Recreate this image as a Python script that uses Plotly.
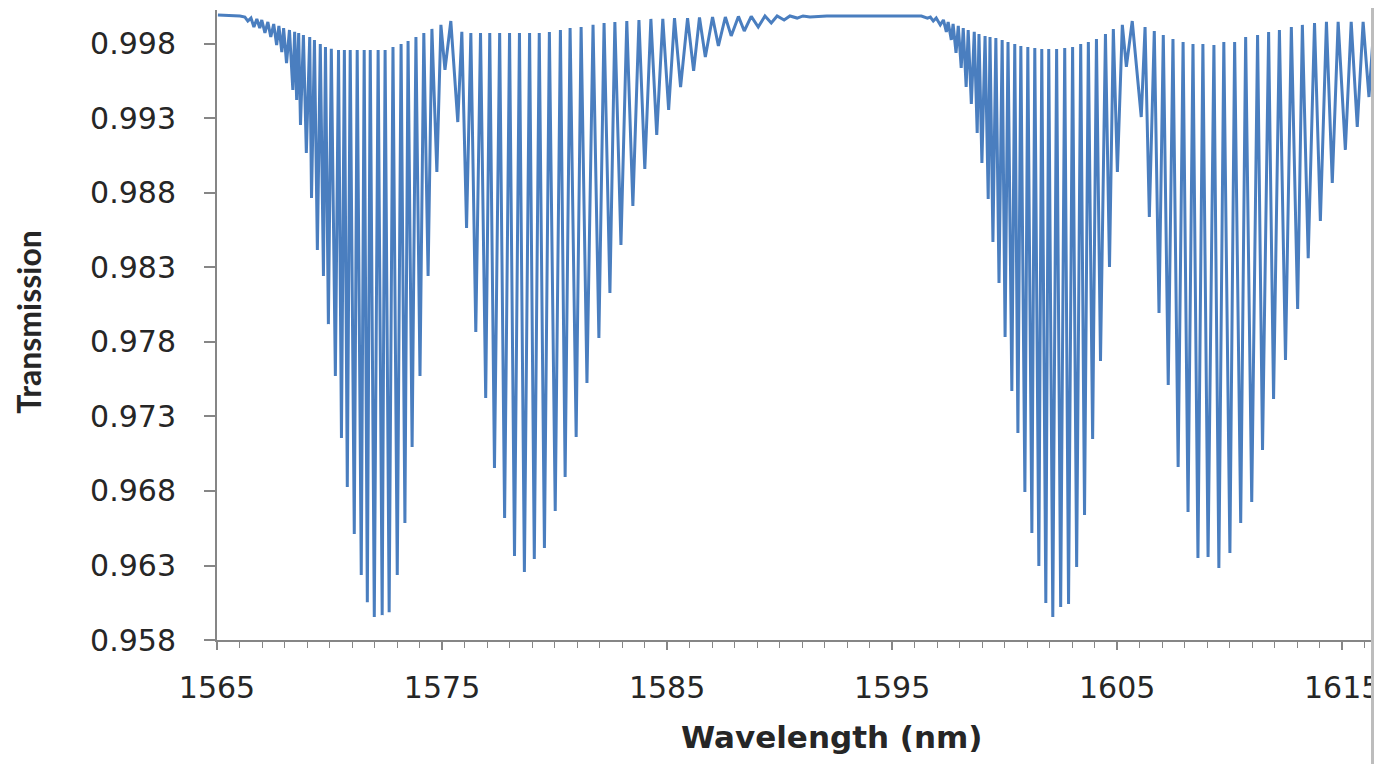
#!/usr/bin/env python3
"""
Transmission spectrum of the ring resonator, 1565-1616 nm.
Dip minima and the envelope maxima between them, read off the measured trace.
"""
import pandas as pd
import plotly.graph_objects as go

# resonance dips (wavelength in nm, transmission at the bottom of the dip)
dip_nm = [
    1566.37, 1566.64, 1566.90, 1567.13, 1567.39, 1567.65, 1567.88, 1568.09, 1568.37, 1568.54,
    1568.71, 1568.97, 1569.20, 1569.46, 1569.73, 1569.95, 1570.26, 1570.53, 1570.79, 1571.10,
    1571.41, 1571.68, 1571.99, 1572.34, 1572.65, 1573.01, 1573.35, 1573.67, 1574.02, 1574.38,
    1574.77, 1575.13,
    1575.70, 1576.09, 1576.50, 1576.94, 1577.33, 1577.78, 1578.22, 1578.66, 1579.10, 1579.55,
    1580.03, 1580.47, 1580.96, 1581.44, 1581.97, 1582.46, 1582.95, 1583.48, 1584.01, 1584.54,
    1585.07, 1585.60, 1586.18, 1586.70, 1587.28, 1587.85, 1588.43, 1589.05, 1589.63, 1590.20,
    1590.78, 1591.35,
    1596.57, 1596.83, 1597.14, 1597.41, 1597.63, 1597.84, 1598.07, 1598.29, 1598.52, 1598.78,
    1598.99, 1599.27, 1599.48, 1599.75, 1600.02, 1600.32, 1600.59, 1600.90, 1601.21, 1601.52,
    1601.83, 1602.14, 1602.49, 1602.84, 1603.20, 1603.55, 1603.91, 1604.26, 1604.66, 1605.01,
    1605.41,
    1606.07, 1606.43, 1606.86, 1607.27, 1607.71, 1608.15, 1608.59, 1609.04, 1609.52, 1610.01,
    1610.49, 1610.98, 1611.46, 1611.95, 1612.48, 1613.02, 1613.49, 1614.03, 1614.56, 1615.14,
    1615.67, 1616.19,
]
dip_T = [
    0.99954, 0.99914, 0.99907, 0.99874, 0.99847, 0.99793, 0.99746, 0.99672, 0.99491, 0.99424,
    0.99256, 0.99069, 0.98767, 0.98417, 0.98243, 0.97920, 0.97572, 0.97156, 0.96827, 0.96511,
    0.96236, 0.96054, 0.95954, 0.95967, 0.95987, 0.96236, 0.96585, 0.97096, 0.97572, 0.98243,
    0.98941, 0.99626,
    0.99276, 0.98565, 0.97867, 0.97424, 0.96955, 0.96619, 0.96364, 0.96256, 0.96343, 0.96417,
    0.96666, 0.96894, 0.97163, 0.97525, 0.97827, 0.98129, 0.98451, 0.98713, 0.98961, 0.99189,
    0.99357, 0.99511, 0.99619, 0.99713, 0.99787, 0.99854, 0.99887, 0.99914, 0.99941, 0.99961,
    0.99974, 0.99981,
    0.99974, 0.99954, 0.99928, 0.99881, 0.99827, 0.99740, 0.99639, 0.99511, 0.99397, 0.99203,
    0.99001, 0.98760, 0.98471, 0.98196, 0.97833, 0.97471, 0.97190, 0.96793, 0.96518, 0.96297,
    0.96048, 0.95954, 0.96021, 0.96041, 0.96290, 0.96639, 0.97149, 0.97672, 0.98303, 0.98941,
    0.99646,
    0.99310, 0.98639, 0.97994, 0.97512, 0.96961, 0.96659, 0.96350, 0.96357, 0.96283, 0.96384,
    0.96585, 0.96726, 0.97076, 0.97418, 0.97679, 0.98021, 0.98363, 0.98612, 0.98867, 0.99089,
    0.99243, 0.99444,
]

# maxima between neighbouring dips (upper envelope of the trace)
peak_nm = [
    1565.04, 1566.02, 1566.24, 1566.51, 1566.77, 1566.99, 1567.26, 1567.52, 1567.75, 1567.96,
    1568.22, 1568.45, 1568.63, 1568.84, 1569.12, 1569.33, 1569.59, 1569.82, 1570.08, 1570.40,
    1570.66, 1570.92, 1571.23, 1571.54, 1571.81, 1572.16, 1572.47, 1572.82, 1573.18, 1573.49,
    1573.84, 1574.19, 1574.55, 1574.95, 1575.39,
    1575.88, 1576.28, 1576.71, 1577.12, 1577.56, 1578.00, 1578.44, 1578.89, 1579.32, 1579.77,
    1580.26, 1580.69, 1581.18, 1581.71, 1582.20, 1582.68, 1583.21, 1583.75, 1584.28, 1584.81,
    1585.33, 1585.91, 1586.44, 1587.02, 1587.59, 1588.17, 1588.74, 1589.35, 1589.89, 1590.46,
    1591.04, 1592.10, 1593.86, 1595.64,
    1596.30, 1596.70, 1596.96, 1597.28, 1597.49, 1597.71, 1597.94, 1598.16, 1598.38, 1598.65,
    1598.86, 1599.13, 1599.35, 1599.61, 1599.89, 1600.15, 1600.45, 1600.72, 1601.03, 1601.34,
    1601.65, 1601.96, 1602.31, 1602.67, 1603.02, 1603.38, 1603.72, 1604.08, 1604.48, 1604.83,
    1605.23, 1605.67,
    1606.24, 1606.65, 1607.05, 1607.48, 1607.93, 1608.37, 1608.81, 1609.30, 1609.74, 1610.22,
    1610.71, 1611.24, 1611.73, 1612.21, 1612.74, 1613.23, 1613.77, 1614.30, 1614.82, 1615.40,
    1615.93, 1616.42,
]
peak_T = [
    0.99995, 0.99988, 0.99981, 0.99974, 0.99968, 0.99961, 0.99948, 0.99934, 0.99921, 0.99907,
    0.99894, 0.99881, 0.99874, 0.99860, 0.99847, 0.99827, 0.99800, 0.99780, 0.99767, 0.99760,
    0.99760, 0.99760, 0.99760, 0.99760, 0.99760, 0.99760, 0.99760, 0.99780, 0.99800, 0.99820,
    0.99847, 0.99874, 0.99901, 0.99928, 0.99954,
    0.99881, 0.99874, 0.99874, 0.99874, 0.99874, 0.99874, 0.99874, 0.99874, 0.99874, 0.99881,
    0.99894, 0.99907, 0.99914, 0.99928, 0.99941, 0.99948, 0.99954, 0.99961, 0.99968, 0.99968,
    0.99974, 0.99974, 0.99978, 0.99981, 0.99981, 0.99985, 0.99985, 0.99988, 0.99988, 0.99988,
    0.99988, 0.99988, 0.99988, 0.99988,
    0.99988, 0.99981, 0.99974, 0.99961, 0.99948, 0.99934, 0.99921, 0.99907, 0.99894, 0.99881,
    0.99867, 0.99854, 0.99847, 0.99840, 0.99827, 0.99813, 0.99800, 0.99787, 0.99780, 0.99773,
    0.99767, 0.99767, 0.99767, 0.99773, 0.99780, 0.99800, 0.99813, 0.99834, 0.99867, 0.99901,
    0.99928, 0.99954,
    0.99914, 0.99887, 0.99860, 0.99833, 0.99813, 0.99800, 0.99800, 0.99793, 0.99813, 0.99813,
    0.99847, 0.99860, 0.99881, 0.99894, 0.99914, 0.99928, 0.99941, 0.99948, 0.99948, 0.99948,
    0.99948, 0.99948,
]

y_ticks = [0.958, 0.963, 0.968, 0.973, 0.978, 0.983, 0.988, 0.993, 0.998]
x_ticks = [1565, 1575, 1585, 1595, 1605, 1615]

AXIS_GREY = "#868686"
LINE_BLUE = "#4a7ebf"
TEXT = "#262626"


def build_trace_table():
    dips = pd.DataFrame({"wl": dip_nm, "T": dip_T})
    peaks = pd.DataFrame({"wl": peak_nm, "T": peak_T})
    return pd.concat([dips, peaks]).sort_values("wl").reset_index(drop=True)


def build_figure(df):
    fig = go.Figure()

    fig.add_trace(go.Scatter(
        x=df["wl"],
        y=df["T"],
        mode="lines",
        line=dict(color=LINE_BLUE, width=3),
        hovertemplate="%{x:.2f} nm<br>T = %{y:.4f}<extra></extra>",
    ))

    # page body keeps its default 8px margin, so the figure is 8px smaller each way
    fig.update_layout(
        width=1374,
        height=756,
        margin=dict(l=209, r=5, t=2, b=124),
        paper_bgcolor="white",
        plot_bgcolor="white",
        showlegend=False,
        xaxis=dict(
            range=[1565, 1616.28],
            tickvals=x_ticks,
            ticks="outside",
            ticklen=8,
            tickwidth=1.5,
            tickcolor=AXIS_GREY,
            ticklabelstandoff=12,
            ticklabeloverflow="allow",
            minor=dict(dtick=1, tick0=1565, ticks="outside", ticklen=6,
                       tickwidth=1.2, tickcolor=AXIS_GREY),
            showline=True,
            linecolor=AXIS_GREY,
            linewidth=2,
            showgrid=False,
            zeroline=False,
            tickfont=dict(family="DejaVu Sans, sans-serif", size=30, color=TEXT),
        ),
        yaxis=dict(
            range=[0.958, 1.00028],
            tickvals=y_ticks,
            tickformat=".3f",
            ticks="outside",
            ticklen=11,
            tickwidth=1.5,
            tickcolor=AXIS_GREY,
            ticklabelstandoff=22,
            showline=True,
            linecolor=AXIS_GREY,
            linewidth=2,
            showgrid=False,
            zeroline=False,
            tickfont=dict(family="DejaVu Sans, sans-serif", size=30, color=TEXT),
        ),
        annotations=[
            dict(text="<b>Wavelength (nm)</b>", xref="paper", yref="paper",
                 x=0.533, y=-0.154, xanchor="center", yanchor="middle",
                 showarrow=False,
                 font=dict(family="DejaVu Sans, sans-serif", size=31, color=TEXT)),
            dict(text="<b>Transmission</b>", xref="paper", yref="paper",
                 x=-0.163, y=0.505, xanchor="center", yanchor="middle",
                 textangle=-90, showarrow=False,
                 font=dict(family="Lato, sans-serif", size=32, color=TEXT)),
        ],
        shapes=[
            # grey edge left over from the screenshot crop
            dict(type="rect", xref="paper", yref="paper",
                 x0=1.0, x1=1.02, y0=-0.25, y1=1.05,
                 fillcolor="#bdbdbd", line=dict(width=0), layer="above"),
        ],
    )
    return fig


def main():
    df = build_trace_table()
    fig = build_figure(df)
    fig.write_html("out.html")
    print(f"points: {len(df)}")


if __name__ == "__main__":
    main()
